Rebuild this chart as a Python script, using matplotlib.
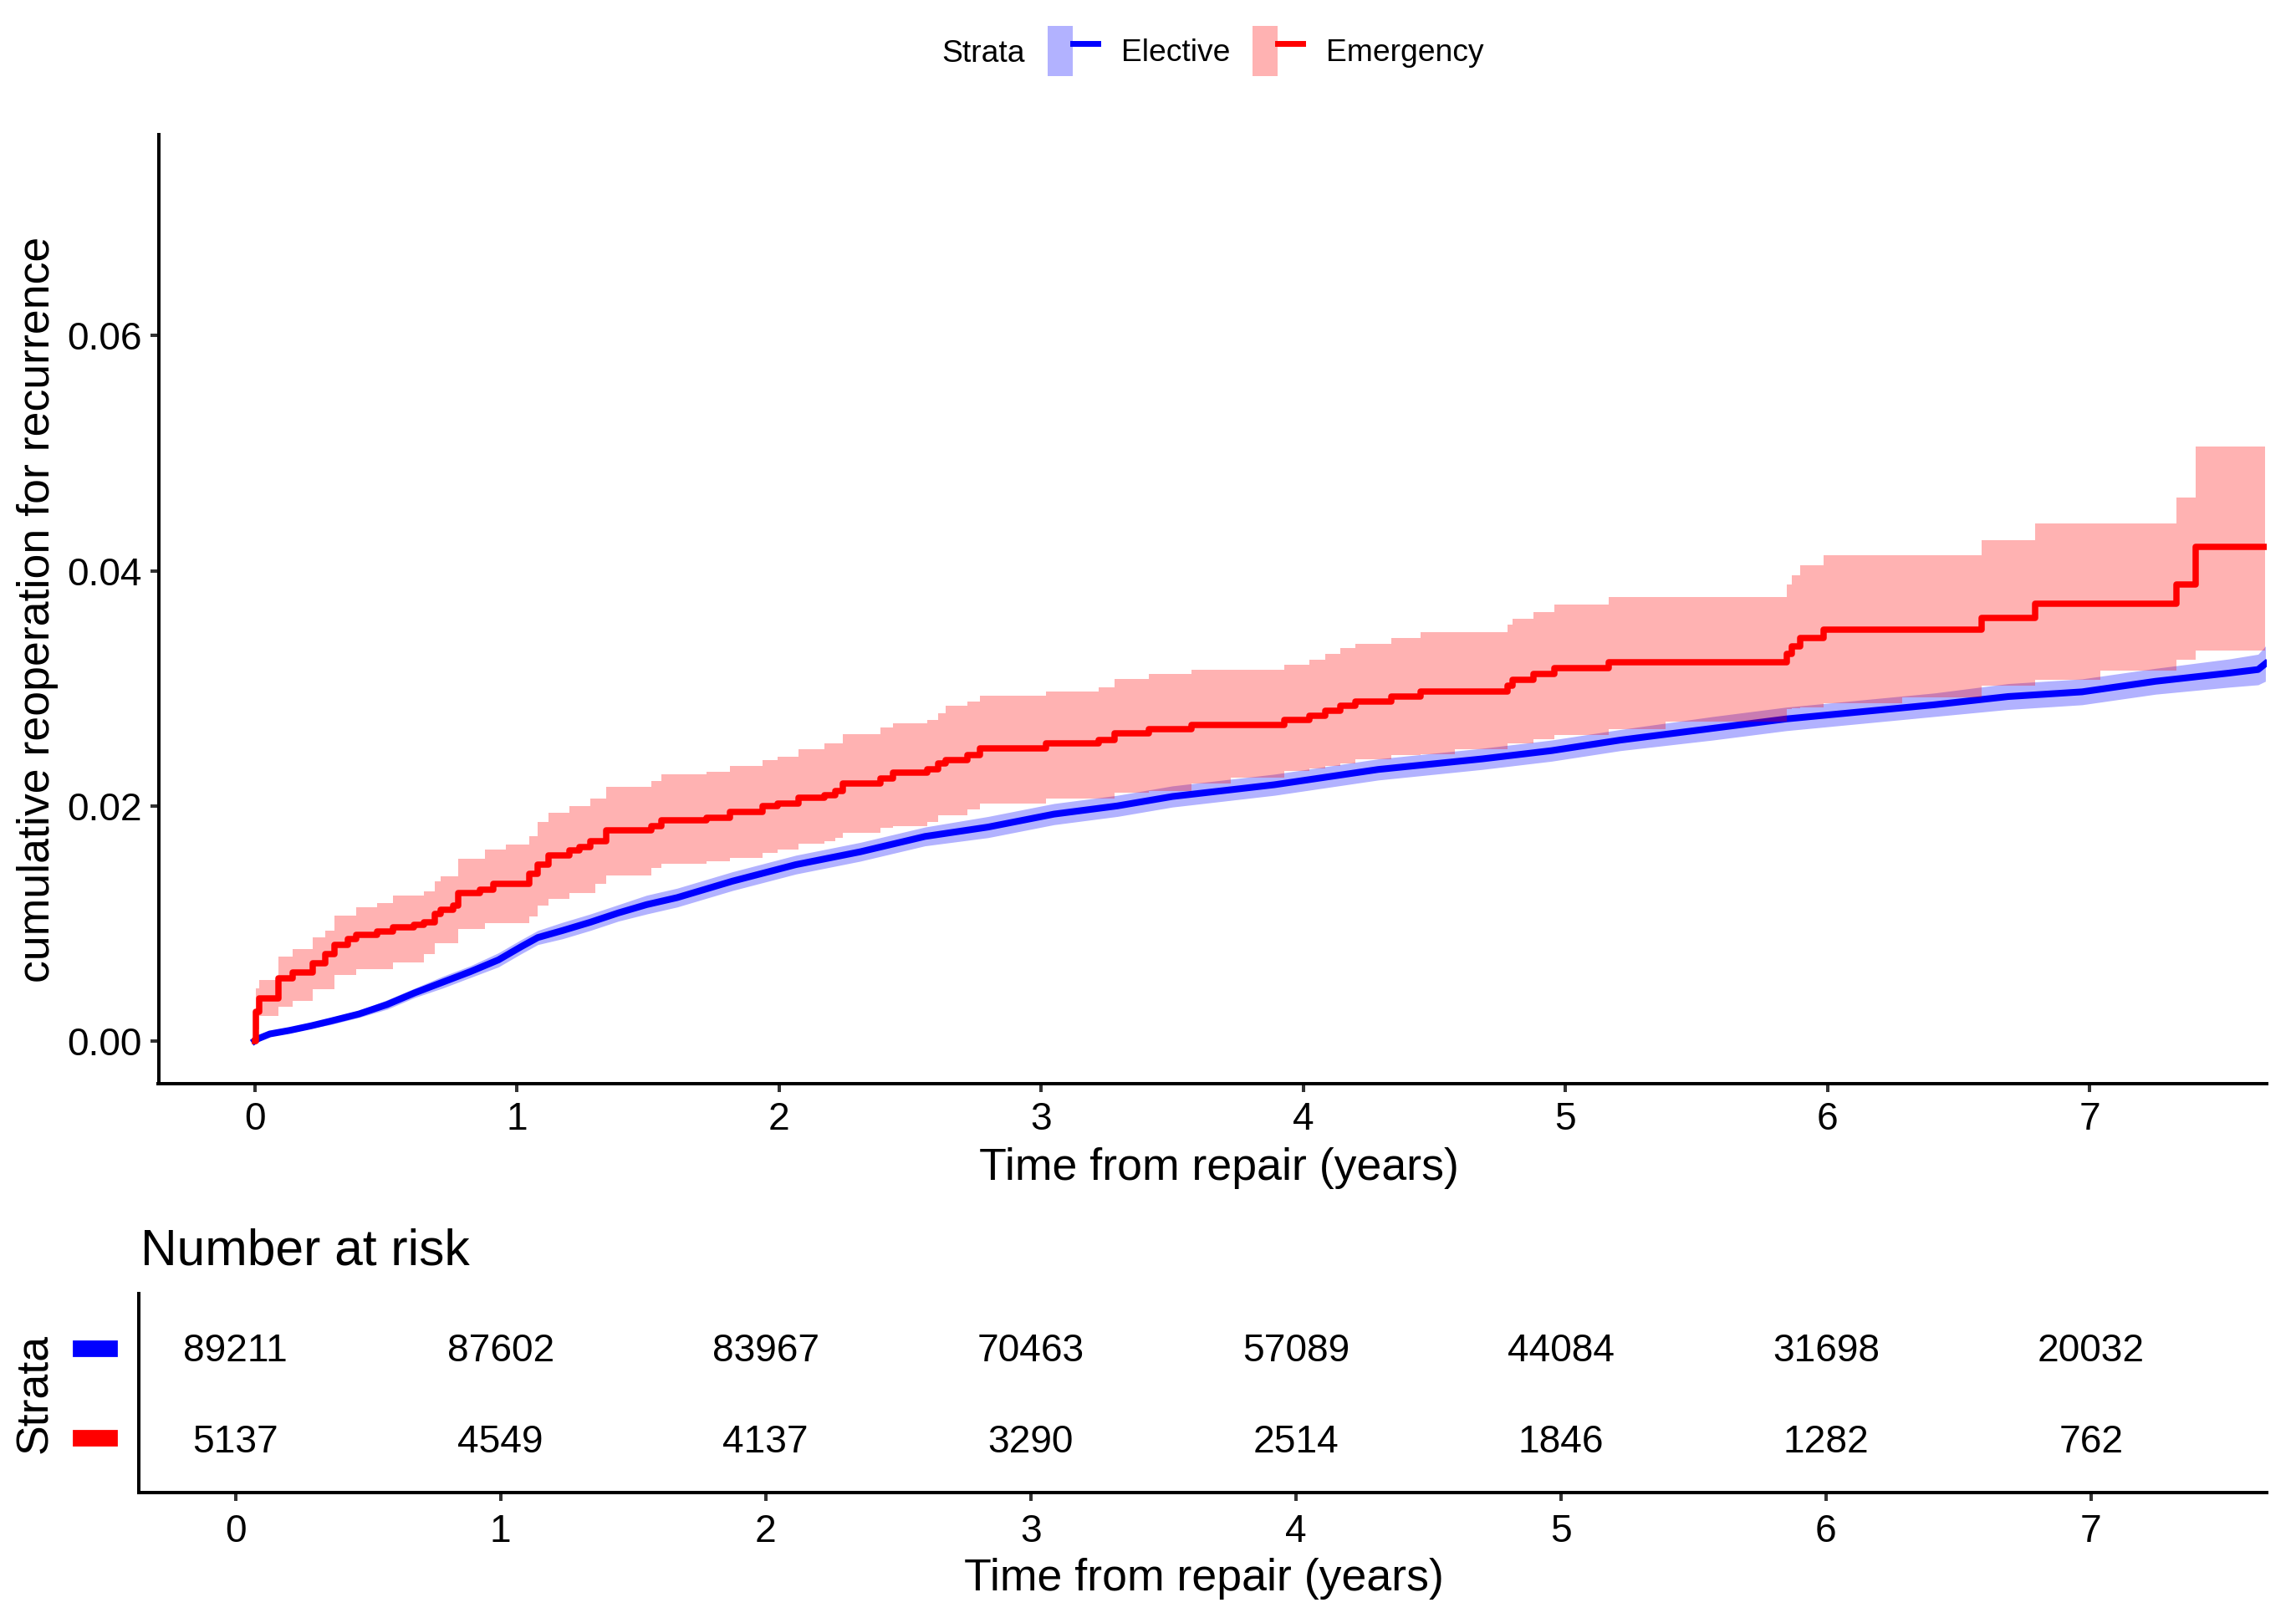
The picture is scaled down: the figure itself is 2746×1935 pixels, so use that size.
import matplotlib
matplotlib.use("Agg")
import matplotlib.pyplot as plt
from matplotlib.patches import Patch, Rectangle
from matplotlib.lines import Line2D
from matplotlib.legend_handler import HandlerTuple
from matplotlib.transforms import offset_copy

plt.rcParams['font.family'] = ['Liberation Sans', 'DejaVu Sans']

# ---------------- data ----------------
strata = ["Elective", "Emergency"]

red_time = [0.000, 0.004, 0.019, 0.090, 0.144, 0.223, 0.270, 0.306, 0.356, 0.386,
            0.466, 0.527, 0.607, 0.647, 0.687, 0.708, 0.758, 0.778, 0.858, 0.878,
            0.909, 0.959, 1.049, 1.079, 1.120, 1.200, 1.240, 1.280, 1.301, 1.341,
            1.512, 1.552, 1.723, 1.813, 1.939, 1.994, 2.074, 2.175, 2.215, 2.245,
            2.386, 2.436, 2.567, 2.607, 2.637, 2.718, 2.768, 3.019, 3.220, 3.280,
            3.411, 3.572, 3.723, 3.929, 4.024, 4.085, 4.140, 4.200, 4.336, 4.447,
            4.577, 4.778, 4.798, 4.879, 4.959, 5.165, 5.381, 5.843, 5.863, 5.894,
            5.984, 6.285, 6.587, 6.793, 7.039, 7.331, 7.405, 7.670]
red_est = [0.0000, 0.0025, 0.0036, 0.0053, 0.0058, 0.0066, 0.0074, 0.0082, 0.0087, 0.0090,
           0.0093, 0.0097, 0.0099, 0.0101, 0.0108, 0.0112, 0.0115, 0.0126, 0.0129, 0.0129,
           0.0134, 0.0134, 0.0142, 0.0150, 0.0158, 0.0162, 0.0165, 0.0170, 0.0170, 0.0179,
           0.0183, 0.0188, 0.0190, 0.0195, 0.0200, 0.0202, 0.0207, 0.0209, 0.0213, 0.0219,
           0.0223, 0.0228, 0.0231, 0.0236, 0.0239, 0.0243, 0.0249, 0.0253, 0.0256, 0.0262,
           0.0265, 0.0269, 0.0269, 0.0273, 0.0277, 0.0281, 0.0285, 0.0289, 0.0293, 0.0297,
           0.0297, 0.0302, 0.0307, 0.0312, 0.0317, 0.0322, 0.0322, 0.0329, 0.0336, 0.0343,
           0.0350, 0.0350, 0.0360, 0.0372, 0.0372, 0.0388, 0.0420, 0.0420]
red_lower = [0.0000, 0.0010, 0.0021, 0.0029, 0.0034, 0.0044, 0.0044, 0.0056, 0.0056, 0.0061,
             0.0061, 0.0067, 0.0067, 0.0074, 0.0083, 0.0083, 0.0083, 0.0095, 0.0095, 0.0100,
             0.0100, 0.0100, 0.0106, 0.0115, 0.0121, 0.0126, 0.0126, 0.0126, 0.0134, 0.0141,
             0.0147, 0.0151, 0.0153, 0.0156, 0.0160, 0.0163, 0.0168, 0.0170, 0.0173, 0.0177,
             0.0181, 0.0183, 0.0186, 0.0192, 0.0192, 0.0197, 0.0202, 0.0206, 0.0206, 0.0211,
             0.0213, 0.0219, 0.0224, 0.0230, 0.0232, 0.0234, 0.0236, 0.0240, 0.0243, 0.0244,
             0.0248, 0.0253, 0.0253, 0.0257, 0.0260, 0.0265, 0.0272, 0.0282, 0.0283, 0.0284,
             0.0287, 0.0292, 0.0302, 0.0307, 0.0315, 0.0324, 0.0332, 0.0332]
red_upper = [0.0000, 0.0045, 0.0052, 0.0072, 0.0078, 0.0088, 0.0094, 0.0107, 0.0107, 0.0114,
             0.0117, 0.0124, 0.0124, 0.0127, 0.0136, 0.0140, 0.0140, 0.0155, 0.0155, 0.0163,
             0.0163, 0.0167, 0.0174, 0.0186, 0.0194, 0.0200, 0.0200, 0.0206, 0.0206, 0.0216,
             0.0221, 0.0227, 0.0229, 0.0234, 0.0239, 0.0242, 0.0248, 0.0253, 0.0253, 0.0261,
             0.0267, 0.0270, 0.0273, 0.0279, 0.0285, 0.0289, 0.0294, 0.0297, 0.0301, 0.0308,
             0.0312, 0.0316, 0.0316, 0.0320, 0.0324, 0.0329, 0.0334, 0.0338, 0.0343, 0.0348,
             0.0348, 0.0354, 0.0359, 0.0365, 0.0371, 0.0378, 0.0378, 0.0388, 0.0396, 0.0405,
             0.0413, 0.0413, 0.0426, 0.0440, 0.0440, 0.0462, 0.0506, 0.0506]

blue_time = [0.000, 0.014, 0.058, 0.133, 0.217, 0.291, 0.398, 0.505, 0.611, 0.717,
             0.823, 0.930, 1.015, 1.080, 1.175, 1.280, 1.388, 1.495, 1.612, 1.823,
             2.064, 2.311, 2.557, 2.798, 3.049, 3.291, 3.501, 3.890, 4.286, 4.683,
             4.947, 5.210, 5.562, 5.843, 6.125, 6.406, 6.688, 6.970, 7.251, 7.532,
             7.642, 7.670]
blue_est = [0.0000, 0.0002, 0.0006, 0.0009, 0.0013, 0.0017, 0.0023, 0.0031, 0.0041, 0.0050,
            0.0059, 0.0069, 0.0080, 0.0088, 0.0094, 0.0101, 0.0109, 0.0116, 0.0122, 0.0136,
            0.0150, 0.0161, 0.0174, 0.0182, 0.0193, 0.0200, 0.0208, 0.0218, 0.0231, 0.0240,
            0.0247, 0.0256, 0.0266, 0.0274, 0.0280, 0.0286, 0.0293, 0.0297, 0.0306, 0.0313,
            0.0316, 0.0321]
blue_lower = [0.0000, 0.0001, 0.0005, 0.0007, 0.0011, 0.0014, 0.0020, 0.0027, 0.0037, 0.0045,
              0.0054, 0.0063, 0.0074, 0.0082, 0.0087, 0.0094, 0.0102, 0.0108, 0.0114, 0.0128,
              0.0142, 0.0153, 0.0166, 0.0173, 0.0184, 0.0191, 0.0199, 0.0209, 0.0222, 0.0231,
              0.0238, 0.0247, 0.0256, 0.0264, 0.0270, 0.0276, 0.0282, 0.0286, 0.0295, 0.0301,
              0.0303, 0.0306]
blue_upper = [0.0000, 0.0003, 0.0007, 0.0011, 0.0015, 0.0020, 0.0026, 0.0035, 0.0045, 0.0055,
              0.0064, 0.0075, 0.0086, 0.0094, 0.0101, 0.0108, 0.0116, 0.0124, 0.0130, 0.0144,
              0.0158, 0.0169, 0.0182, 0.0191, 0.0202, 0.0209, 0.0217, 0.0227, 0.0240, 0.0249,
              0.0256, 0.0265, 0.0276, 0.0284, 0.0290, 0.0296, 0.0304, 0.0308, 0.0317, 0.0325,
              0.0329, 0.0336]

risk_times = [0, 1, 2, 3, 4, 5, 6, 7]
elective_risk = [89211, 87602, 83967, 70463, 57089, 44084, 31698, 20032]
emergency_risk = [5137, 4549, 4137, 3290, 2514, 1846, 1282, 762]

x_ticks = [0, 1, 2, 3, 4, 5, 6, 7]
y_ticks = [0.00, 0.02, 0.04, 0.06]

BLUE = "#0000FF"
RED = "#FF0000"

# ---------------- layout ----------------
W, H, DPI = 2746, 1935, 200
fig = plt.figure(figsize=(W / DPI, H / DPI), dpi=DPI)


def fx(px):
    return px / W


def fy(py):
    return 1 - py / H


TICK_FS = 16.6
TITLE_FS = 19.3
SPINE_LW = 1.45

# ---------------- main plot ----------------
M_L, M_R, M_T, M_B = 189.5, 2711, 161, 1296
ax = fig.add_axes([fx(M_L), fy(M_B), fx(M_R) - fx(M_L), fy(M_T) - fy(M_B)])
ax.fill_between(blue_time, blue_lower, blue_upper, color=BLUE, alpha=0.3, lw=0, zorder=1)
ax.plot(blue_time, blue_est, color=BLUE, lw=2.9, zorder=2, solid_joinstyle='round')
ax.fill_between(red_time, red_lower, red_upper, step='post', color=RED, alpha=0.3, lw=0, zorder=3)
ax.step(red_time, red_est, where='post', color=RED, lw=2.7, zorder=4)

ax.set_xlim(-0.3668, 7.675)
ax.set_ylim(-0.00363, 0.0771)
ax.set_xticks(x_ticks)
ax.set_yticks(y_ticks)
ax.set_yticklabels([f"{v:.2f}" for v in y_ticks])
for s in ("top", "right"):
    ax.spines[s].set_visible(False)
for s in ("left", "bottom"):
    ax.spines[s].set_linewidth(SPINE_LW)
    ax.spines[s].set_color("black")
ax.tick_params(axis='both', labelsize=TICK_FS, colors='#333333', width=SPINE_LW,
               length=3.6, labelcolor='black')
ax.tick_params(axis='x', pad=4.0)
ax.tick_params(axis='y', pad=3.4)

mh = M_B - M_T
mw = M_R - M_L
ax.set_xlabel("Time from repair (years)", fontsize=TITLE_FS)
ax.xaxis.set_label_coords((1458 - M_L) / mw, (M_B - 1397) / mh)
ax.xaxis.label.set_va('center')
ax.set_ylabel("cumulative reoperation for recurrence", fontsize=TITLE_FS)
ax.yaxis.set_label_coords((45 - M_L) / mw, 0.5)
ax.yaxis.label.set_va('center')

# ---------------- legend ----------------
LEG_FS = 13.4
em = LEG_FS / 72 * DPI
handles = [(Patch(facecolor=BLUE, alpha=0.3, lw=0), Line2D([], [], color=BLUE, lw=2.5)),
           (Patch(facecolor=RED, alpha=0.3, lw=0), Line2D([], [], color=RED, lw=2.5))]
fig.legend(handles, strata, handler_map={tuple: HandlerTuple(ndivide=None)},
           loc='center left', bbox_to_anchor=(fx(1253), fy(61)), ncol=2, frameon=False,
           fontsize=LEG_FS, handlelength=60 / em, handleheight=2.105,
           handletextpad=28 / em, columnspacing=27 / em, borderpad=0, borderaxespad=0)
fig.text(fx(1126), fy(64), "Strata", fontsize=LEG_FS, ha='left', va='center')

# ---------------- risk table ----------------
R_L, R_R, R_T, R_B = 166.4, 2711, 1547, 1785
ax2 = fig.add_axes([fx(R_L), fy(R_B), fx(R_R) - fx(R_L), fy(R_T) - fy(R_B)])
ax2.set_xlim(-0.3637, 7.663)
ax2.set_ylim(0.4, 2.6)
num_em = TICK_FS / 72 * DPI
num_tr = offset_copy(ax2.transData, fig=fig, x=0, y=-0.358 * num_em, units='dots')
for t, n in zip(risk_times, elective_risk):
    ax2.text(t, 2, str(n), ha='center', va='baseline', fontsize=TICK_FS, transform=num_tr)
for t, n in zip(risk_times, emergency_risk):
    ax2.text(t, 1, str(n), ha='center', va='baseline', fontsize=TICK_FS, transform=num_tr)
ax2.set_xticks(x_ticks)
ax2.set_yticks([])
for s in ("top", "right"):
    ax2.spines[s].set_visible(False)
for s in ("left", "bottom"):
    ax2.spines[s].set_linewidth(SPINE_LW)
    ax2.spines[s].set_color("black")
ax2.tick_params(axis='x', labelsize=TICK_FS, colors='#333333', width=SPINE_LW,
                length=3.6, labelcolor='black', pad=5.5)
rh = R_B - R_T
rw = R_R - R_L
ax2.set_xlabel("Time from repair (years)", fontsize=TITLE_FS)
ax2.xaxis.set_label_coords((1440 - R_L) / rw, (R_B - 1888) / rh)
ax2.xaxis.label.set_va('center')
ax2.set_ylabel("Strata", fontsize=TITLE_FS)
ax2.yaxis.set_label_coords((42 - R_L) / rw, 0.5)
ax2.yaxis.label.set_va('center')
ax2.text((168 - R_L) / rw, (R_B - 1512.6) / rh, "Number at risk", transform=ax2.transAxes,
         fontsize=21.8, ha='left', va='baseline')

# coloured strata keys on the risk table
for ypx, col in ((1612, BLUE), (1719, RED)):
    fig.patches.append(Rectangle((fx(88), fy(ypx + 8.5)), fx(51), 17 / H, color=col,
                                 transform=fig.transFigure, figure=fig))

fig.savefig("out.png", dpi=DPI, facecolor='white')
